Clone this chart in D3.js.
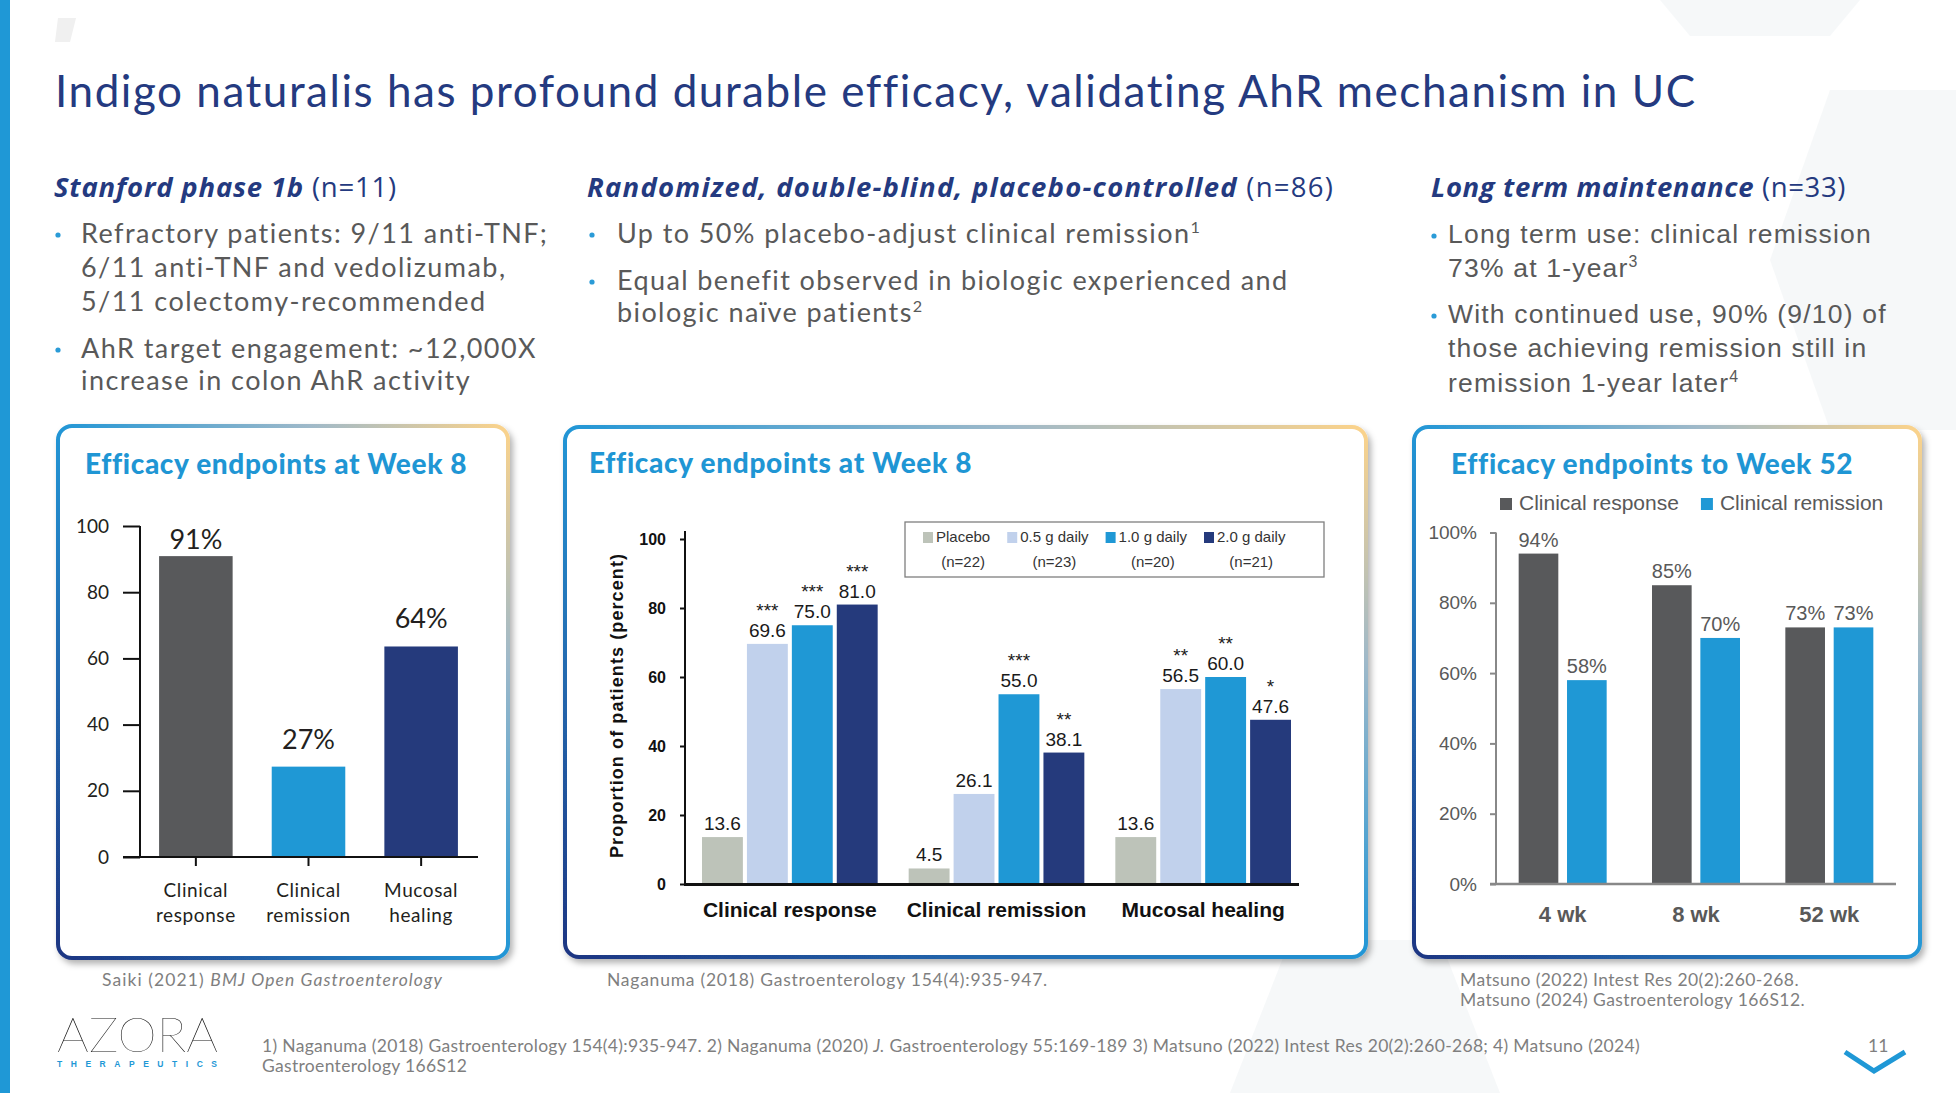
<!DOCTYPE html>
<html><head><meta charset="utf-8">
<script src="https://cdn.jsdelivr.net/npm/d3@7"></script>
<style>html,body{margin:0;padding:0;background:#fff;overflow:hidden}svg{display:block}</style>
</head><body>
<svg id="s" width="1956" height="1093"></svg>
<script>
// ---------------- DATA ----------------
const p1Categories = ["Clinical response", "Clinical remission", "Mucosal healing"];
const p1Values = [90.9, 27.3, 63.6];
const p1Ticks = [0, 20, 40, 60, 80, 100];

const p2Groups = ["Clinical response", "Clinical remission", "Mucosal healing"];
const p2Series = ["Placebo", "0.5 g daily", "1.0 g daily", "2.0 g daily"];
const p2SeriesN = ["(n=22)", "(n=23)", "(n=20)", "(n=21)"];
const p2Placebo = [13.6, 4.5, 13.6];
const p2Dose05 = [69.6, 26.1, 56.5];
const p2Dose10 = [75.0, 55.0, 60.0];
const p2Dose20 = [81.0, 38.1, 47.6];
const p2Stars05 = ["***", "", "**"];
const p2Stars10 = ["***", "***", "**"];
const p2Stars20 = ["***", "**", "*"];
const p2Ticks = [0, 20, 40, 60, 80, 100];

const p3Groups = ["4 wk", "8 wk", "52 wk"];
const p3Series = ["Clinical response", "Clinical remission"];
const p3Response = [94, 85, 73];
const p3Remission = [58, 70, 73];
const p3Ticks = [0, 20, 40, 60, 80, 100];

// ---------------- STYLE ----------------
const AV = "Lato, 'Open Sans', sans-serif";
const AVH = "'Open Sans', Lato, sans-serif";
const AR = "'Liberation Sans', Arial, sans-serif";
const NAVY_T = "#243a80", BLUE = "#1f98d6", GRAYT = "#595959";
const C_DGRAY = "#58595b", C_BLUE = "#1f98d5", C_NAVY = "#253a7c", C_LBLUE = "#c1d1ec", C_PLAC = "#bdc3b9";

const svg = d3.select("#s");
const W = 1956, H = 1093;
const defs = svg.append("defs");
const grad = defs.append("linearGradient").attr("id", "bord")
  .attr("x1", 0).attr("y1", 1).attr("x2", 1).attr("y2", 0);
[[0, "#1f3582"], [0.5, "#2196d6"], [0.78, "#9fb9c9"], [1, "#fcd38a"]]
  .forEach(s => grad.append("stop").attr("offset", s[0]).attr("stop-color", s[1]));
const filt = defs.append("filter").attr("id", "sh").attr("x", -0.05).attr("y", -0.05).attr("width", 1.12).attr("height", 1.12);
filt.append("feDropShadow").attr("dx", 3).attr("dy", 4).attr("stdDeviation", 3)
  .attr("flood-color", "#000").attr("flood-opacity", 0.3);

// background
svg.append("rect").attr("width", W).attr("height", H).attr("fill", "#fff");
const hexes = [
  [[1830, 90], [1990, 90], [2050, 260], [1990, 430], [1830, 430], [1770, 260]],
  [[1290, 940], [1440, 940], [1500, 1093], [1230, 1093]],
  [[1700, 600], [1850, 600], [1920, 780], [1850, 960], [1700, 960], [1640, 780]],
  [[1660, 0], [1860, 0], [1830, 36], [1690, 36]]
];
hexes.forEach(p => svg.append("polygon").attr("points", p.map(q => q.join(",")).join(" "))
  .attr("fill", "#f4f6f8").attr("opacity", 0.8));
svg.append("polygon").attr("points", "58,18 76,18 70,42 55,42").attr("fill", "#f0f0f0");
svg.append("rect").attr("x", 0).attr("y", 0).attr("width", 10).attr("height", H).attr("fill", BLUE);

// text helpers
function addText(g, x, y, parts, attrs) {
  const t = g.append("text").attr("x", x).attr("y", y);
  Object.entries(attrs || {}).forEach(([k, v]) => t.attr(k, v));
  parts.forEach(p => {
    if (typeof p === "string") { t.append("tspan").text(p); return; }
    const s = t.append("tspan").text(p.t);
    if (p.i) s.attr("font-style", "italic");
    if (p.b) s.attr("font-weight", p.b);
    if (p.sup) s.attr("font-size", "0.6em").attr("dy", "-0.6em");
  });
  return t;
}
function spacingFor(t, target) {
  const w = t.node().getComputedTextLength();
  const n = t.text().length;
  return (target - w) / n;
}
function fitSpacing(t, target) {
  const ls = spacingFor(t, target);
  t.attr("letter-spacing", ls);
  return ls;
}

// ---------------- TITLE ----------------
const title = addText(svg, 55, 107, ["Indigo naturalis has profound durable efficacy, validating AhR mechanism in UC"],
  { "font-family": AV, "font-size": 44, fill: NAVY_T });
fitSpacing(title, 1640);

// ---------------- TOP TEXT COLUMNS ----------------
function header(x, bold, rest, width) {
  const t = addText(svg, x, 197, [{ t: bold, i: 1, b: 700 }, " " + rest],
    { "font-family": AVH, "font-size": 27.5, fill: NAVY_T });
  fitSpacing(t, width);
}
header(54, "Stanford phase 1b", "(n=11)", 343);
header(587, "Randomized, double-blind, placebo-controlled", "(n=86)", 747);
header(1431, "Long term maintenance", "(n=33)", 415);

function bulletBlock(xDot, xText, lines, font, size, refIdx, refWidth, color, dotOff) {
  const ts = lines.map(l => addText(svg, xText, l.y, l.parts, { "font-family": font, "font-size": size, fill: color }));
  const ls = spacingFor(ts[refIdx], refWidth);
  ts.forEach(t => t.attr("letter-spacing", ls));
  lines.forEach(l => { if (l.dot) svg.append("circle").attr("cx", xDot).attr("cy", l.y - dotOff).attr("r", 2.6).attr("fill", "#2a9bd7"); });
}
bulletBlock(58, 81, [
  { y: 243, dot: 1, parts: ["Refractory patients: 9/11 anti-TNF;"] },
  { y: 277, parts: ["6/11 anti-TNF and vedolizumab,"] },
  { y: 311, parts: ["5/11 colectomy-recommended"] },
  { y: 358, dot: 1, parts: ["AhR target engagement: ~12,000X"] },
  { y: 390, parts: ["increase in colon AhR activity"] }
], AV, 27, 3, 456, GRAYT, 8);
bulletBlock(592, 617, [
  { y: 243, dot: 1, parts: ["Up to 50% placebo-adjust clinical remission", { t: "1", sup: 1 }] },
  { y: 290, dot: 1, parts: ["Equal benefit observed in biologic experienced and"] },
  { y: 322, parts: ["biologic naïve patients", { t: "2", sup: 1 }] }
], AV, 27, 1, 671, GRAYT, 8);
bulletBlock(1434, 1448, [
  { y: 243, dot: 1, parts: ["Long term use: clinical remission"] },
  { y: 277, parts: ["73% at 1-year", { t: "3", sup: 1 }] },
  { y: 323, dot: 1, parts: ["With continued use, 90% (9/10) of"] },
  { y: 357, parts: ["those achieving remission still in"] },
  { y: 392, parts: ["remission 1-year later", { t: "4", sup: 1 }] }
], AR, 26.5, 0, 424, GRAYT, 7);

// ---------------- PANELS ----------------
function panel(x, y, w, h, titleText, tx, ty, tw) {
  svg.append("rect").attr("x", x + 2).attr("y", y + 2).attr("width", w - 4).attr("height", h - 4)
    .attr("rx", 14).attr("fill", "#fff").attr("stroke", "url(#bord)").attr("stroke-width", 4)
    .attr("filter", "url(#sh)");
  const t = addText(svg, tx, ty, [titleText], { "font-family": AV, "font-size": 28, "font-weight": 900, fill: "#1f96d4" });
  fitSpacing(t, tw);
}
panel(56, 424, 454, 536, "Efficacy endpoints at Week 8", 85, 474, 381);
panel(563, 425, 805, 534, "Efficacy endpoints at Week 8", 589, 473, 382);
panel(1412, 425, 510, 534, "Efficacy endpoints to Week 52", 1451, 474, 401);

// ---------------- PANEL 1 ----------------
{
  const g = svg.append("g");
  const y = d3.scaleLinear().domain([0, 100]).range([857, 526]);
  const x = d3.scaleBand().domain(p1Categories).range([120, 497]).padding(0.347);
  const colors = [C_DGRAY, C_BLUE, C_NAVY];
  g.selectAll("rect.bar").data(p1Values).join("rect").attr("class", "bar")
    .attr("x", (d, i) => x(p1Categories[i])).attr("y", d => y(d))
    .attr("width", x.bandwidth()).attr("height", d => y(0) - y(d))
    .attr("fill", (d, i) => colors[i]);
  const ya = g.append("g").attr("transform", "translate(140,0)")
    .call(d3.axisLeft(y).tickValues(p1Ticks).tickSize(17).tickPadding(14));
  ya.select(".domain").remove();
  ya.selectAll("line").attr("stroke", "#111").attr("stroke-width", 2);
  ya.selectAll("text").attr("font-family", AV).attr("font-size", 19).attr("fill", "#231f20");
  g.append("line").attr("x1", 140).attr("x2", 140).attr("y1", y(100)).attr("y2", y(0)).attr("stroke", "#111").attr("stroke-width", 2);
  const xa = g.append("g").attr("transform", `translate(0,${y(0)})`)
    .call(d3.axisBottom(x).tickSize(9).tickFormat(""));
  xa.select(".domain").remove();
  xa.selectAll("line").attr("stroke", "#111").attr("stroke-width", 2);
  g.append("line").attr("x1", 123).attr("x2", 478).attr("y1", y(0)).attr("y2", y(0)).attr("stroke", "#111").attr("stroke-width", 2);
  p1Categories.forEach(c => {
    const words = c.split(" ");
    words.forEach((w, k) => g.append("text").attr("x", x(c) + x.bandwidth() / 2).attr("y", 897 + k * 25)
      .attr("text-anchor", "middle").attr("font-family", AV).attr("font-size", 19)
      .attr("letter-spacing", 0.6).attr("fill", "#231f20").text(w));
  });
  const fmt = d3.format(".0f");
  g.selectAll("text.val").data(p1Values).join("text").attr("class", "val")
    .attr("x", (d, i) => x(p1Categories[i]) + x.bandwidth() / 2)
    .attr("y", d => Math.max(y(d) - 18, 549))
    .attr("text-anchor", "middle").attr("font-family", AV).attr("font-size", 27).attr("fill", "#231f20")
    .text(d => fmt(d) + "%");
}

// ---------------- PANEL 2 ----------------
{
  const g = svg.append("g");
  const series = [p2Placebo, p2Dose05, p2Dose10, p2Dose20];
  const stars = [null, p2Stars05, p2Stars10, p2Stars20];
  const colors = [C_PLAC, C_LBLUE, C_BLUE, C_NAVY];
  const y = d3.scaleLinear().domain([0, 100]).range([884, 539]);
  const x0 = d3.scaleBand().domain(p2Groups).range([702, 1291]).paddingInner(0.15);
  const x1 = d3.scaleBand().domain(p2Series).range([0, x0.bandwidth()]).paddingInner(0.09);
  const fmt = d3.format(".1f");
  p2Groups.forEach((grp, gi) => {
    p2Series.forEach((s, si) => {
      const v = series[si][gi];
      const bx = x0(grp) + x1(s), cx = bx + x1.bandwidth() / 2;
      g.append("rect").attr("x", bx).attr("y", y(v)).attr("width", x1.bandwidth())
        .attr("height", y(0) - y(v)).attr("fill", colors[si]);
      g.append("text").attr("x", cx).attr("y", y(v) - 7).attr("text-anchor", "middle")
        .attr("font-family", AR).attr("font-size", 19).attr("fill", "#1a1a1a").text(fmt(v));
      if (stars[si] && stars[si][gi]) g.append("text").attr("x", cx).attr("y", y(v) - 27)
        .attr("text-anchor", "middle").attr("font-family", AR).attr("font-size", 19)
        .attr("fill", "#1a1a1a").text(stars[si][gi]);
    });
    g.append("text").attr("x", x0(grp) + x0.bandwidth() / 2).attr("y", 917).attr("text-anchor", "middle")
      .attr("font-family", AR).attr("font-size", 21).attr("font-weight", 700).attr("fill", "#111").text(grp);
  });
  const ya = g.append("g").attr("transform", "translate(685,0)")
    .call(d3.axisLeft(y).tickValues(p2Ticks).tickSize(5).tickPadding(14));
  ya.select(".domain").remove();
  ya.selectAll("line").attr("stroke", "#111").attr("stroke-width", 2);
  ya.selectAll("text").attr("font-family", AR).attr("font-size", 16).attr("font-weight", 700).attr("fill", "#111");
  g.append("line").attr("x1", 685).attr("x2", 685).attr("y1", 531).attr("y2", y(0)).attr("stroke", "#111").attr("stroke-width", 2);
  g.append("line").attr("x1", 684).attr("x2", 1299).attr("y1", y(0) + 0.5).attr("y2", y(0) + 0.5).attr("stroke", "#111").attr("stroke-width", 3);
  g.append("text").attr("transform", "translate(623,706) rotate(-90)").attr("text-anchor", "middle")
    .attr("font-family", AR).attr("font-size", 18).attr("font-weight", 700).attr("fill", "#111")
    .attr("textLength", 304).attr("lengthAdjust", "spacing").text("Proportion of patients (percent)");
  // legend
  g.append("rect").attr("x", 905).attr("y", 522).attr("width", 419).attr("height", 55)
    .attr("fill", "#fff").attr("stroke", "#7f7f7f").attr("stroke-width", 1.3);
  let lx = 923;
  p2Series.forEach((s, si) => {
    g.append("rect").attr("x", lx).attr("y", 532).attr("width", 10).attr("height", 11).attr("fill", colors[si]);
    const t = g.append("text").attr("x", lx + 13).attr("y", 542).attr("font-family", AR).attr("font-size", 15)
      .attr("fill", "#333").text(s);
    const tw = t.node().getComputedTextLength();
    g.append("text").attr("x", lx + 13 + tw / 2).attr("y", 567).attr("text-anchor", "middle")
      .attr("font-family", AR).attr("font-size", 15).attr("fill", "#333").text(p2SeriesN[si]);
    lx += 13 + tw + 17;
  });
}

// ---------------- PANEL 3 ----------------
{
  const g = svg.append("g");
  const series = [p3Response, p3Remission];
  const colors = [C_DGRAY, C_BLUE];
  const y = d3.scaleLinear().domain([0, 100]).range([884, 532.5]);
  const x0 = d3.scaleBand().domain(p3Groups).range([1496, 1896]).paddingInner(0.34).paddingOuter(0.17);
  const x1 = d3.scaleBand().domain(p3Series).range([0, x0.bandwidth()]).paddingInner(0.18);
  p3Groups.forEach((grp, gi) => {
    p3Series.forEach((s, si) => {
      const v = series[si][gi];
      const bx = x0(grp) + x1(s);
      g.append("rect").attr("x", bx).attr("y", y(v)).attr("width", x1.bandwidth())
        .attr("height", y(0) - y(v)).attr("fill", colors[si]);
      g.append("text").attr("x", bx + x1.bandwidth() / 2).attr("y", y(v) - 7).attr("text-anchor", "middle")
        .attr("font-family", AR).attr("font-size", 20).attr("fill", GRAYT).text(v + "%");
    });
    g.append("text").attr("x", x0(grp) + x0.bandwidth() / 2).attr("y", 922).attr("text-anchor", "middle")
      .attr("font-family", AR).attr("font-size", 22).attr("font-weight", 700).attr("fill", GRAYT).text(grp);
  });
  const ya = g.append("g").attr("transform", "translate(1496,0)")
    .call(d3.axisLeft(y).tickValues(p3Ticks).tickSize(6).tickPadding(13).tickFormat(d => d + "%"));
  ya.select(".domain").remove();
  ya.selectAll("line").attr("stroke", "#888").attr("stroke-width", 2);
  ya.selectAll("text").attr("font-family", AR).attr("font-size", 19).attr("fill", GRAYT);
  g.append("line").attr("x1", 1496).attr("x2", 1496).attr("y1", y(100)).attr("y2", y(0)).attr("stroke", "#888").attr("stroke-width", 2);
  g.append("line").attr("x1", 1490).attr("x2", 1896).attr("y1", y(0)).attr("y2", y(0)).attr("stroke", "#888").attr("stroke-width", 2.5);
  let lx = 1500;
  p3Series.forEach((s, si) => {
    g.append("rect").attr("x", lx).attr("y", 498).attr("width", 12).attr("height", 12).attr("fill", colors[si]);
    const t = g.append("text").attr("x", lx + 19).attr("y", 510).attr("font-family", AR).attr("font-size", 21)
      .attr("fill", GRAYT).text(s);
    lx += 19 + t.node().getComputedTextLength() + 22;
  });
}

// ---------------- FOOTER ----------------
function foot(x, y, parts, width) {
  const t = addText(svg, x, y, parts, { "font-family": AV, "font-size": 17.5, fill: "#7f7f7f" });
  if (width) fitSpacing(t, width);
  return t;
}
foot(102, 986, ["Saiki (2021) ", { t: "BMJ Open Gastroenterology", i: 1 }], 341);
foot(607, 986, ["Naganuma (2018) Gastroenterology 154(4):935-947."], 441);
const m2 = foot(1460, 1006, ["Matsuno (2024) Gastroenterology 166S12."], 345);
const m1 = foot(1460, 986, ["Matsuno (2022) Intest Res 20(2):260-268."]);
m1.attr("letter-spacing", m2.attr("letter-spacing"));
const f1 = foot(262, 1052, ["1) Naganuma (2018) Gastroenterology 154(4):935-947. 2) Naganuma (2020) ", { t: "J.", i: 1 },
  " Gastroenterology 55:169-189 3) Matsuno (2022) Intest Res 20(2):260-268; 4) Matsuno (2024)"], 1378);
const f2 = foot(262, 1072, ["Gastroenterology 166S12"]);
f2.attr("letter-spacing", f1.attr("letter-spacing"));
foot(1868, 1052, ["11"]);

// logo
svg.append("text").attr("x", 57).attr("y", 1052).attr("font-family", AV).attr("font-weight", 100)
  .attr("font-size", 47).attr("fill", "#111").attr("textLength", 161).attr("lengthAdjust", "spacingAndGlyphs").text("AZORA");
svg.append("text").attr("x", 57).attr("y", 1067).attr("font-family", AR).attr("font-weight", 700)
  .attr("font-size", 8.5).attr("fill", BLUE).attr("textLength", 160).attr("lengthAdjust", "spacing").text("THERAPEUTICS");
// chevron
svg.append("polyline").attr("points", "1845,1052 1874,1071 1905,1052").attr("fill", "none")
  .attr("stroke", BLUE).attr("stroke-width", 5).attr("stroke-linejoin", "miter");
</script>
</body></html>
